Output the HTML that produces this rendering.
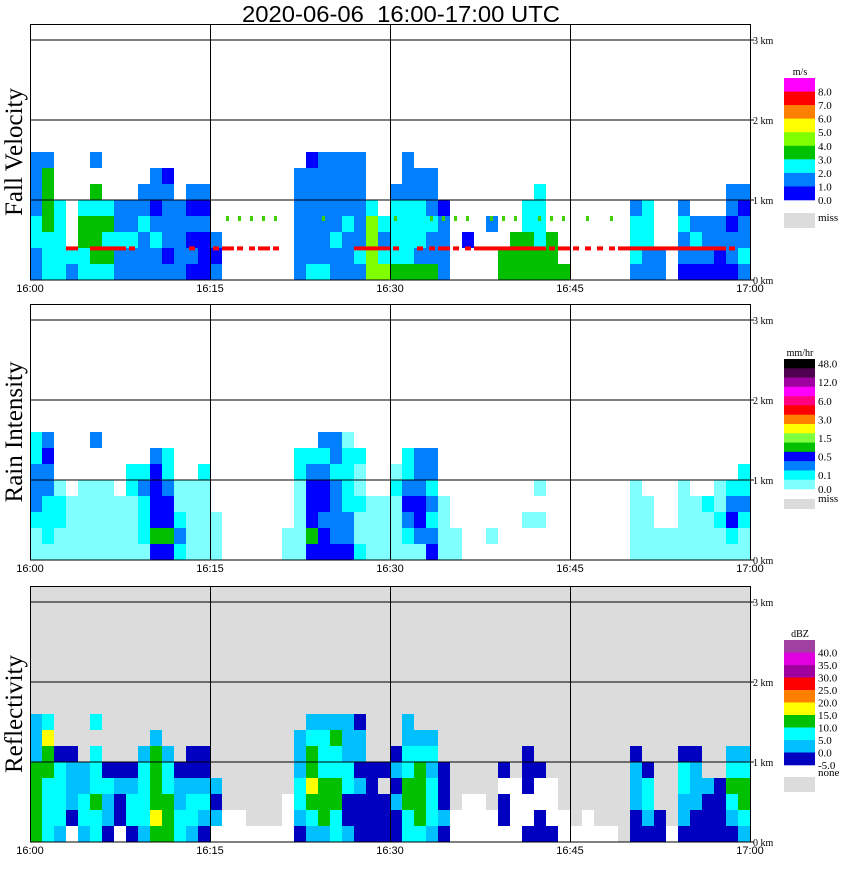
<!DOCTYPE html>
<html><head><meta charset="utf-8"><style>
body{margin:0;background:#fff;}
</style></head><body>
<svg id="chart" width="850" height="868" viewBox="0 0 850 868" xmlns="http://www.w3.org/2000/svg">
<text x="401" y="22" font-size="23" font-family="Liberation Sans, sans-serif" text-anchor="middle" textLength="318" lengthAdjust="spacingAndGlyphs" xml:space="preserve">2020-06-06&#160;&#160;16:00-17:00 UTC</text>
<g id="layers"></g>
</svg>
<script>
// time axis: minutes 0..60 ; height axis: 0..3.2 km
const timeTicks = ["16:00","16:15","16:30","16:45","17:00"];
const heightTicks = ["0 km","1 km","2 km","3 km"];
const panelTitles = ["Fall Velocity","Rain Intensity","Reflectivity"];
// per-minute columns, bottom-to-top, each char = 0.2 km cell
const velCols = ["mmccmmmm","cccggggm","ccccc","mc","ccggc","cgggcg.m","cgcgc","mmcmm","mmcmm","mmmcmm",
"mmcmbmm","mbmmmmb","mmmmm","bmbmbm","bbbmbm","mbm","","","","",
"","","mmmmmmm","cmmmmmmb","cmmmmmmm","mmcmmmmm","mmmcmmmm","mcmmmmmm","llllc","lcmc",
"gccccm","gccccmmm","gmcccmm","gmmcmmm","mmmmb","","..b","","...m","gg",
"ggg","gggcc","ggcccc","ggg","g","","","","","",
"mcccm","mmccc","mm","","bmmcm","bmcm","bmmm","bbmm","bmmbmm","mcmmbm"];
const rainCols = ["aacmmmcc","acccmmbm","aacca","aaaa","aaaaa","aaaaa..m","aaaaa","aaaa","aaaacc","acccmc",
"bgbbbbm","bgbbmcc","cmcaa","aaaaa","aaaaac","aaa","","","","",
"","aa","aaaaacc","bgbbbmc","bbmbbmcm","bmmmmcmm","bmmcccca","caacaac","aaaa","aaaa",
"aaaaca","acmbmcc","ambbmmm","bmcmcmm","aaaa","aa","","",".a","",
"","..a","..a.a","","","","","","","",
"aaaaa","aaaa","aa","aa","aaaaa","aaaa","aaac","aacaa","acbmc","aacmcc"];
const reflCols = ["gggggsss","ccccggyc","sccccn","wnsssn","sccss","ccgccc.c","nsscn","wnnsn","nccsn","sccccs",
"gyggggs","gggccs","ccssn","sccsnn","nscsnn","wsns","ww","ww","w","w",
"w","www","nsccsss","scgyggcs","sgggcccs","ccggccgs","snnccsss","nnnsnssn","nnnnn","nnn.n",
"nnsnsn","ccggccss","cggggcs","scccscs","nsnnn","ww","www","www","ww","wnnwn",
"wwww","nwwnnn","nnwwn","nwww","ww","w","ww","w","w","",
"nnsssn","nsccn","nn","w","nssccn","nnsssn","nnns","nnnn","nscgcs","scggcs"];
// melting-layer / clutter markers in the fall-velocity panel
const redLine = "...R.RRRd....d.dRddRd......RRRd.ddRddRRRRRRdRddddRRRRRRRRRd";
const greenDots = "................ddddd...d.....d..dddd.ddd.ddd.d.d.........";

const velColors = {b:"#0000ff",m:"#0080ff",c:"#00ffff",g:"#00c000",l:"#80ff00",y:"#ffff00",o:"#ff8000",r:"#ff0000",p:"#ff00ff"};
const rainColors = {a:"#80ffff",c:"#00ffff",m:"#0080ff",b:"#0000ff",g:"#00c000",l:"#80ff40",y:"#ffff00"};
const reflColors = {n:"#0000c0",s:"#00c0ff",c:"#00ffff",g:"#00c000",y:"#ffff00",o:"#ff8000",r:"#ff0000",w:"#ffffff"};

const velLegend = ["#ff00ff","#ff0000","#ff8000","#ffff00","#80ff00","#00c000","#00ffff","#0080ff","#0000ff"];
const velLabels = ["8.0","7.0","6.0","5.0","4.0","3.0","2.0","1.0","0.0"];
const rainLegend = ["#000000","#500050","#a000a0","#ff00ff","#ff0080","#ff0000","#ff8000","#ffff00","#80ff40","#00c000","#0000ff","#0080ff","#00ffff","#80ffff"];
const rainLabels = ["48.0","","12.0","","6.0","","3.0","","1.5","","0.5","","0.1","0.0"];
const reflLegend = ["#a040a0","#e000e0","#a000a0","#ff0000","#ff8000","#ffff00","#00c000","#00ffff","#00c0ff","#0000c0"];
const reflLabels = ["40.0","35.0","30.0","25.0","20.0","15.0","10.0","5.0","0.0","-5.0"];

const NS="http://www.w3.org/2000/svg";
const root=document.getElementById('layers');
const X0=30,X1=750,PX_PER_MIN=(X1-X0)/60,PX_PER_KM=80;
const SERIF="Liberation Serif, serif", SANS="Liberation Sans, sans-serif";
function xScale(m){return X0+m*PX_PER_MIN;}
function mk(tag,attrs,parent){const e=document.createElementNS(NS,tag);for(const k in attrs)e.setAttribute(k,attrs[k]);(parent||root).appendChild(e);return e;}

const panels=[
 {base:280,cols:velCols,colors:velColors,bg:"#ffffff",legend:velLegend,labels:velLabels,unit:"m/s",lTop:78,lBot:200,miss:"miss",missY:213,missH:15,labelMode:"bottom"},
 {base:560,cols:rainCols,colors:rainColors,bg:"#ffffff",legend:rainLegend,labels:rainLabels,unit:"mm/hr",lTop:359,lBot:489,miss:"miss",missY:499,missH:10,labelMode:"rain"},
 {base:842,cols:reflCols,colors:reflColors,bg:"#dcdcdc",legend:reflLegend,labels:reflLabels,unit:"dBZ",lTop:640,lBot:765,miss:"none",missY:777,missH:15,labelMode:"bottom"}
];
function yScale(p,km){return p.base-km*PX_PER_KM;}

panels.forEach((p,pi)=>{
  const g=mk('g',{});
  
  
  const top=yScale(p,3.2);
  const bg=mk('rect',{x:X0,y:top,width:X1-X0,height:p.base-top,fill:p.bg},g);
  
  
  const cells=mk('g',{},g);
  
  
  p.cols.forEach((col,m)=>{
    for(let r=0;r<col.length;r++){
      const ch=col[r];const c=p.colors[ch];if(!c)continue;
      const y0=yScale(p,(r+1)*0.2);
      const cell=mk('rect',{x:xScale(m),y:y0,width:PX_PER_MIN,height:0.2*PX_PER_KM,fill:c},cells);
      
      
    }
  });
  if(pi===0){
    for(let m=0;m<60;m++){
      const rc=redLine[m];
      if(rc==='R'||rc==='d'){
        const seg=mk('rect',{x:xScale(m)+(rc==='d'?3:0),y:yScale(p,0.42),width:rc==='d'?6:PX_PER_MIN,height:4,fill:"#ff0000"},g);
        
        
      }
      if(greenDots[m]==='d'){
        const gd=mk('rect',{x:xScale(m)+4,y:yScale(p,0.8),width:3,height:5,fill:"#40d000"},g);
        
        
      }
    }
  }
  [1,2,3].forEach(k=>{const l=mk('line',{x1:X0,x2:X1,y1:yScale(p,k),y2:yScale(p,k),stroke:"#000","stroke-width":1},g);
    });
  [15,30,45].forEach(m=>{const l=mk('line',{x1:xScale(m)+0.5,x2:xScale(m)+0.5,y1:top,y2:p.base,stroke:"#000","stroke-width":1},g);
    });
  const fr=mk('rect',{x:X0+0.5,y:top+0.5,width:X1-X0,height:p.base-top-0.5,fill:"none",stroke:"#000","stroke-width":1},g);
  
  heightTicks.forEach((t,k)=>{
    const y=yScale(p,k);
    const tk=mk('line',{x1:X1,x2:X1+4,y1:y,y2:y,stroke:"#000"},g);
    
    const tx=mk('text',{x:X1+3,y:y+4,"font-size":10,"font-family":SERIF},g);tx.textContent=t;
    
  });
  timeTicks.forEach((t,k)=>{
    const tx=mk('text',{x:xScale(k*15),y:p.base+12,"font-size":11,"text-anchor":"middle","font-family":SANS},g);tx.textContent=t;
    
  });
  const tt=mk('text',{x:0,y:0,"font-size":25,"text-anchor":"middle","font-family":SERIF,transform:`translate(22,${(top+p.base)/2}) rotate(-90)`},g);
  tt.textContent=panelTitles[pi];
  
  const lg=mk('g',{},g);
  
  const n=p.legend.length,h=(p.lBot-p.lTop)/n;
  const ut=mk('text',{x:800,y:p.lTop-3,"font-size":10,"text-anchor":"middle","font-family":SERIF},lg);ut.textContent=p.unit;
  
  p.legend.forEach((c,i)=>{
    const sw=mk('rect',{x:784,y:p.lTop+i*h,width:31,height:h+0.3,fill:c},lg);
    
    const lab=p.labels[i];
    if(lab){
      let ly;
      if(p.labelMode==='rain') ly = (i===n-1)? p.lBot+4 : p.lTop+i*h+h/2+4;
      else ly = p.lTop+(i+1)*h+4;
      const tx=mk('text',{x:818,y:ly,"font-size":11,"font-family":SERIF},lg);tx.textContent=lab;
      
    }
  });
  const ms=mk('rect',{x:784,y:p.missY,width:31,height:p.missH,fill:"#dcdcdc"},lg);
  
  const mt=mk('text',{x:818,y:p.missY+(pi===2?-1:(pi===1?3:8)),"font-size":11,"font-family":SERIF},lg);mt.textContent=p.miss;
  
});
</script>
</body></html>
